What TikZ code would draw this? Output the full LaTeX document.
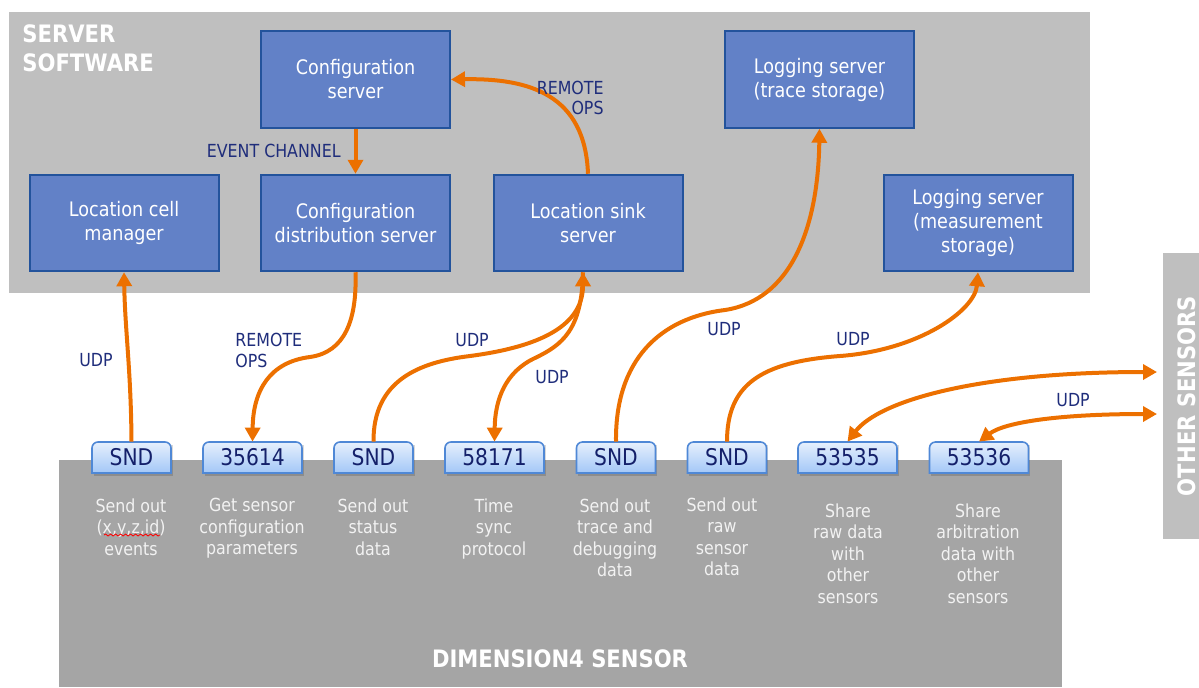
\documentclass[tikz,border=0pt]{standalone}
\usepackage{fontspec}
\setmainfont{DejaVu Sans}[FakeStretch=0.88]
\usetikzlibrary{arrows.meta,decorations.pathmorphing}
\definecolor{srvgray}{HTML}{BFBFBF}
\definecolor{sengray}{HTML}{A5A5A5}
\definecolor{boxblue}{HTML}{6281C7}
\definecolor{boxedge}{HTML}{23539C}
\definecolor{orng}{HTML}{EC7000}
\definecolor{navy}{HTML}{1F2D7B}
\definecolor{portnavy}{HTML}{14206A}
\definecolor{porttop}{HTML}{E6F0FD}
\definecolor{portbot}{HTML}{A3C7F7}
\definecolor{portedge}{HTML}{4F88D6}
\definecolor{desc}{HTML}{F2F2F2}
\newcommand\portbox[4]{%
  \fill[black,opacity=.15] ({#2-#3/2+1.5},475.5) rectangle ({#2+#3/2+1.5},445);
  \draw[portedge, line width=0.8pt, top color=porttop, bottom color=portbot]
    ({#2-#3/2},473) [rounded corners=3pt] -- ({#2-#3/2},442) -- ({#2+#3/2},442)
    [sharp corners] -- ({#2+#3/2},473) -- cycle;
  \node[porttext, minimum width=#3*0.5pt] (#1) at (#2,457.5) {#4};
}
\begin{document}
\begin{tikzpicture}[x=0.5pt,y=-0.5pt,
  srvbox/.style={draw=boxedge, line width=1pt, fill=boxblue, text=white,
    minimum width=94.5pt, minimum height=48.25pt, align=center,
    font=\fontsize{10}{12}\selectfont, inner sep=0pt},
  porttext/.style={text=portnavy, font=\fontsize{11.5}{13}\selectfont,
    inner sep=0pt, minimum height=15.5pt},
  desctext/.style={text=desc, align=center, font=\fontsize{9}{10.8}\selectfont,
    anchor=north, inner sep=0pt},
  lbl/.style={text=navy, font=\fontsize{9}{10.25}\selectfont, inner sep=0pt, anchor=west},
  title/.style={text=white, font=\bfseries\fontsize{12}{14.5}\selectfont, inner sep=0pt},
  flow/.style={draw=orng, line width=2pt, -{Triangle[width=7.5pt,length=7pt]}},
  flowtwo/.style={draw=orng, line width=2pt,
    {Triangle[width=7.5pt,length=7pt]}-{Triangle[width=7.5pt,length=7pt]}}]
\useasboundingbox (0,0) rectangle (1199,687);
% panels
\fill[srvgray] (9,12) rectangle (1090,293);
\fill[sengray] (59,460) rectangle (1062,687);
\fill[srvgray] (1163,253) rectangle (1199,539);
\node[title, anchor=north west, align=left] (srvtitle) at (22,24.5) {SERVER\\SOFTWARE};
\node[title] (sentitle) at (560,659) {DIMENSION4 SENSOR};
\node[title, rotate=90] (ostitle) at (1187,396) {OTHER SENSORS};
% server boxes
\node[srvbox] (cfg) at (355.5,79.5) {Configuration\\server};
\node[srvbox] (lcm) at (124,223) {Location cell\\manager};
\node[srvbox] (cdist) at (355.5,223) {Configuration\\distribution server};
\node[srvbox] (sink) at (588,223) {Location sink\\server};
\node[srvbox] (logt) at (819.5,79.5) {Logging server\\(trace storage)};
\node[srvbox] (logm) at (978,223) {Logging server\\(measurement\\storage)};
% ports
\portbox{p1}{131.5}{79}{SND}
\portbox{p2}{252.5}{99}{35614}
\portbox{p3}{373.5}{79}{SND}
\portbox{p4}{494.5}{99}{58171}
\portbox{p5}{616}{79}{SND}
\portbox{p6}{727}{79}{SND}
\portbox{p7}{847.5}{99}{53535}
\portbox{p8}{979}{99}{53536}
% descriptions
\node[desctext] (d1) at (131,498) {Send out\\(x,y,z,id)\\events};
\node[desctext] (d2) at (252,498) {Get sensor\\configuration\\parameters};
\node[desctext] (d3) at (373,498) {Send out\\status\\data};
\node[desctext] (d4) at (494,498) {Time\\sync\\protocol};
\node[desctext] (d5) at (615,498) {Send out\\trace and\\debugging\\data};
\node[desctext] (d6) at (722,497) {Send out\\raw\\sensor\\data};
\node[desctext] (d7) at (848,503) {Share\\raw data\\with\\other\\sensors};
\node[desctext] (d8) at (978,503) {Share\\arbitration\\data with\\other\\sensors};
\draw[red, line width=0.4pt, decorate, decoration={snake, amplitude=0.5pt, segment length=2.5pt}] (104,535) -- (160,535);
% free ends
\coordinate (os1) at (1157,372);
\coordinate (os2) at (1157,414);
% connectors
\draw[flow] (cfg.south) -- (cdist.north);
\draw[flow] (sink.north) .. controls (585,95) and (530,78) .. (cfg.east);
\draw[flow] (p1.north) .. controls (131,370) and (125,330) .. (lcm.south);
\draw[flow] (cdist.south) .. controls (357,320) and (345,352) .. (310,357) .. controls (270,362) and (253,390) .. (p2.north);
\draw[flow] (p3.north) .. controls (373,380) and (420,362) .. (470,356) .. controls (530,348) and (583,330) .. ([xshift=-2.5pt]sink.south);
\draw[flow] ([xshift=-2.5pt]sink.south) .. controls (582,330) and (562,345) .. (535,358) .. controls (505,372) and (495,400) .. (p4.north);
\draw[flow] (p5.north) .. controls (615,360) and (660,318) .. (725,310) .. controls (790,300) and (818,230) .. (logt.south);
\draw[flow] (p6.north) .. controls (727,385) and (760,362) .. (840,356) .. controls (920,350) and (975,310) .. (logm.south);
\draw[flowtwo] (p7.north) .. controls (880,400) and (980,372) .. (os1);
\draw[flowtwo] (p8.north) .. controls (1005,422) and (1060,414) .. (os2);
% labels
\node[lbl, anchor=east] (ev) at (341,151) {EVENT CHANNEL};
\node[lbl, anchor=east, align=right] (ro1) at (604,98) {REMOTE\\OPS};
\node[lbl, align=left] (ro2) at (235,350.5) {REMOTE\\OPS};
\node[lbl] (u1) at (79,360) {UDP};
\node[lbl] (u2) at (455,340) {UDP};
\node[lbl] (u3) at (535,377) {UDP};
\node[lbl] (u4) at (707,329) {UDP};
\node[lbl] (u5) at (836,339) {UDP};
\node[lbl] (u6) at (1056,400) {UDP};
\end{tikzpicture}
\end{document}
